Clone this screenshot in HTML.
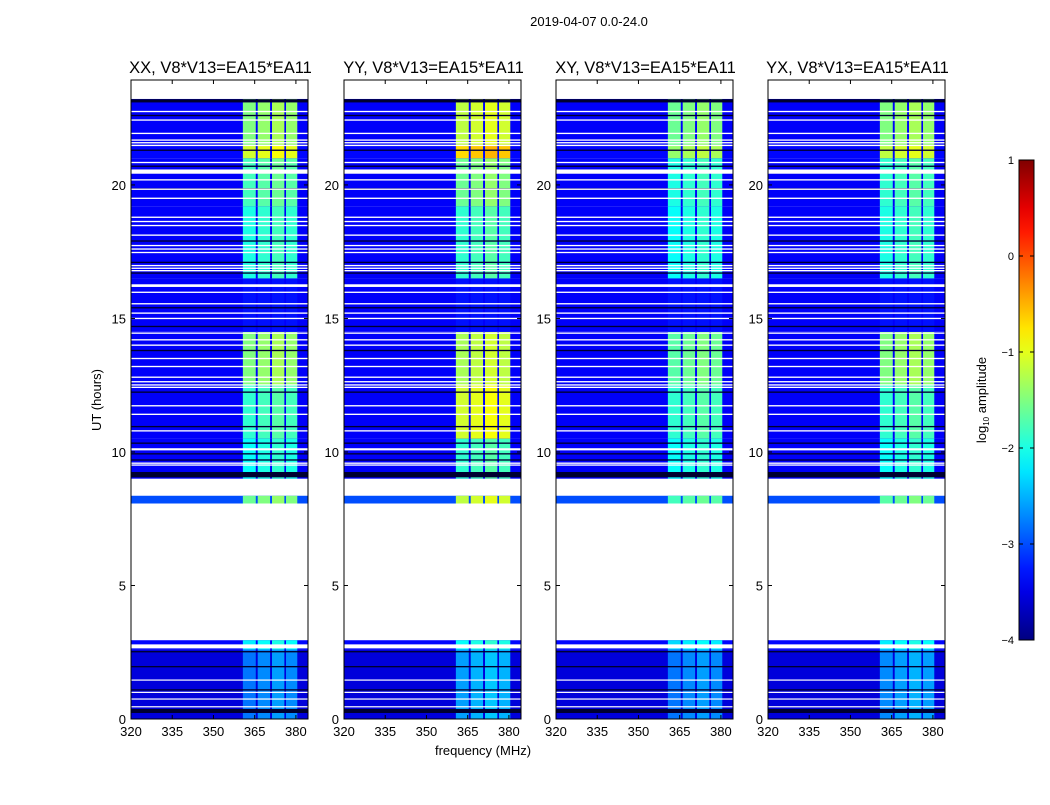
<!DOCTYPE html>
<html><head><meta charset="utf-8"><style>
body{margin:0;background:#fff;font-family:"Liberation Sans",sans-serif}
svg text{font-family:"Liberation Sans",sans-serif}
</style></head><body>
<svg id="fig" width="1050" height="800" viewBox="0 0 1050 800"></svg>
<script>
// ---- data ----
const panelTitles=["XX, V8*V13=EA15*EA11","YY, V8*V13=EA15*EA11","XY, V8*V13=EA15*EA11","YX, V8*V13=EA15*EA11"];
const xTicks=[320,335,350,365,380];
const yTicks=[0,5,10,15,20];
const cbTicks=[-4,-3,-2,-1,0,1];
const segStart=[0.0,2.6,8.05,9.0,10.5,12.5,14.5,16.5,19.2,21.0,21.5];
const segEnd  =[2.6,2.95,8.36,10.5,12.5,14.5,16.5,19.2,21.0,21.5,23.22];
const segBg   =[-3.55,-3.35,-3.0,-3.4,-3.4,-3.4,-3.4,-3.4,-3.4,-3.35,-3.4];
const bandXX=[-2.8,-2.2,-1.6,-2.1,-1.9,-1.5,-3.3,-2.0,-1.8,-1.1,-1.5];
const bandYY=[-2.6,-2.1,-1.2,-1.9,-1.1,-1.3,-3.3,-1.9,-1.6,-0.7,-1.2];
const bandXY=[-2.8,-2.3,-1.8,-2.1,-1.9,-1.7,-3.3,-2.1,-2.0,-1.4,-1.6];
const bandYX=[-2.7,-2.2,-1.7,-2.1,-1.9,-1.5,-3.3,-2.0,-1.9,-1.2,-1.5];
const subLo=[360.7,366.1,371.3,376.4];
const subHi=[365.4,370.6,375.8,380.5];
const subOffset=[0,0.1,0.2,0.1];
const whiteRows=[22.75,22.43,21.93,21.68,21.58,21.48,20.84,20.5,20.19,19.84,19.5,18.79,18.63,18.48,18.12,17.73,17.6,17.47,16.98,16.88,16.79,16.23,15.98,15.55,15.2,15.0,14.45,14.2,14.0,13.5,13.2,12.8,12.63,12.51,12.42,11.73,11.41,10.79,10.1,9.58,9.51,8.05,2.72,1.46,1.0,0.75,0.46];
const whiteWidth=[0.05,0.05,0.05,0.05,0.05,0.05,0.05,0.16,0.05,0.05,0.05,0.05,0.05,0.05,0.05,0.05,0.05,0.05,0.05,0.05,0.05,0.1,0.05,0.05,0.05,0.05,0.05,0.05,0.05,0.05,0.05,0.05,0.05,0.05,0.05,0.05,0.05,0.05,0.08,0.05,0.05,0.04,0.15,0.04,0.04,0.04,0.04];
const blackRows=[23.15,22.6,21.3,20.7,19.85,17.9,17.1,16.7,15.4,14.7,13.8,12.24,10.95,10.33,9.93,9.7,9.15,2.52,1.96,1.09,0.3];
const blackWidth=[0.12,0.05,0.05,0.05,0.05,0.05,0.05,0.05,0.05,0.05,0.05,0.05,0.05,0.05,0.05,0.05,0.2,0.05,0.05,0.05,0.15];
const bands=[bandXX,bandYY,bandXY,bandYX];

// ---- layout ----
const NS="http://www.w3.org/2000/svg";
const svg=document.getElementById('fig');
const panelX=[131,344,556,768], PW=177, PT=80, PB=719;
const FMIN=320, FMAX=384.4, TMIN=0, TMAX=23.93;
function jet(v){let t=(v+4)/5;t=Math.max(0,Math.min(1,t));
 const c=x=>Math.round(255*Math.max(0,Math.min(1,x)));
 return `rgb(${c(1.5-Math.abs(4*t-3))},${c(1.5-Math.abs(4*t-2))},${c(1.5-Math.abs(4*t-1))})`;}
function mk(tag,attrs,parent){const e=document.createElementNS(NS,tag);for(const k in attrs)e.setAttribute(k,attrs[k]);(parent||svg).appendChild(e);return e;}

const sup=mk('text',{x:589,y:26,'text-anchor':'middle','font-size':13});sup.textContent="2019-04-07 0.0-24.0";



panelTitles.forEach((title,p)=>{
 const x0=panelX[p];
 const xs=f=>x0+(f-FMIN)/(FMAX-FMIN)*PW;
 const ys=h=>PB-(h-TMIN)/(TMAX-TMIN)*(PB-PT);
 const g=mk('g',{});
 
 
 for(let i=0;i<segStart.length;i++){
  const y1=ys(segEnd[i]),y2=ys(segStart[i]);
  const r=mk('rect',{x:x0,y:y1,width:PW,height:y2-y1,fill:jet(segBg[i])},g);
  
  
  for(let s=0;s<subLo.length;s++){
   const c=mk('rect',{x:xs(subLo[s]),y:y1,width:xs(subHi[s])-xs(subLo[s]),height:y2-y1,fill:jet(bands[p][i]+subOffset[s]*(bands[p][i]>-3?1:0))},g);
   
   
  }
 }
 blackRows.forEach((h,i)=>{const l=mk('rect',{x:x0,y:ys(h+blackWidth[i]/2),width:PW,height:Math.max(1.2,ys(h-blackWidth[i]/2)-ys(h+blackWidth[i]/2)),fill:'#000030'},g);
  
  });
 whiteRows.forEach((h,i)=>{const l=mk('rect',{x:x0,y:ys(h+whiteWidth[i]/2),width:PW,height:Math.max(1.2,ys(h-whiteWidth[i]/2)-ys(h+whiteWidth[i]/2)),fill:'#fff'},g);
  
  });
 const fr=mk('rect',{x:x0,y:PT,width:PW,height:PB-PT,fill:'none',stroke:'#000','stroke-width':1},g);
 
 
 xTicks.forEach(f=>{const X=xs(f);
  mk('line',{x1:X,x2:X,y1:PB,y2:PB-4,stroke:'#000'},g);mk('line',{x1:X,x2:X,y1:PT,y2:PT+4,stroke:'#000'},g);
  const t=mk('text',{x:X,y:PB+17,'text-anchor':'middle','font-size':13},g);t.textContent=f;
  
  });
 yTicks.forEach(h=>{const Y=ys(h);
  mk('line',{x1:x0,x2:x0+4,y1:Y,y2:Y,stroke:'#000'},g);mk('line',{x1:x0+PW,x2:x0+PW-4,y1:Y,y2:Y,stroke:'#000'},g);
  const t=mk('text',{x:x0-5,y:Y+5,'text-anchor':'end','font-size':13},g);t.textContent=h;
  
  });
 const tt=mk('text',{x:x0+PW/2+1,y:73,'text-anchor':'middle','font-size':16.5},g);tt.textContent=title;
 
 
});

const xl=mk('text',{x:483,y:755,'text-anchor':'middle','font-size':13});xl.textContent="frequency (MHz)";


const yl=mk('text',{x:101,y:400,'text-anchor':'middle','font-size':13,transform:'rotate(-90 101 400)'});yl.textContent="UT (hours)";



const defs=mk('defs',{});const lg=mk('linearGradient',{id:'jetg',x1:0,y1:1,x2:0,y2:0},defs);
for(let i=0;i<=20;i++){mk('stop',{offset:i/20,'stop-color':jet(-4+5*i/20)},lg);}
const cb=mk('rect',{x:1019,y:160,width:15,height:480,fill:'url(#jetg)',stroke:'#000'});


cbTicks.forEach(v=>{const Y=640-(v+4)/5*480;
 mk('line',{x1:1019,x2:1023,y1:Y,y2:Y,stroke:'#000'});mk('line',{x1:1034,x2:1030,y1:Y,y2:Y,stroke:'#000'});
 const t=mk('text',{x:1014,y:Y+4,'text-anchor':'end','font-size':11});t.textContent=v<0?'\u2212'+(-v):v;
 
 });
const cl=mk('text',{x:986,y:400,'text-anchor':'middle','font-size':13,transform:'rotate(-90 986 400)'});
cl.innerHTML='log<tspan font-size="8" dy="3">10</tspan><tspan dy="-3"> amplitude</tspan>';


</script>
</body></html>
